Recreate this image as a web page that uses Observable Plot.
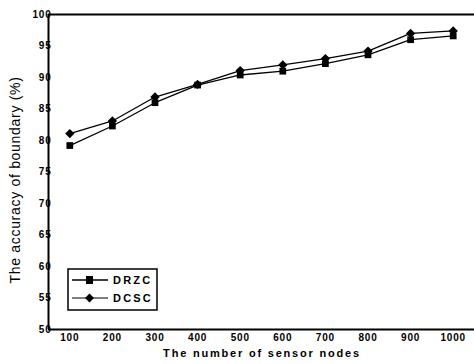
<!DOCTYPE html>
<html>
<head>
<meta charset="utf-8">
<script src="https://cdn.jsdelivr.net/npm/d3@7"></script>
<script src="https://cdn.jsdelivr.net/npm/@observablehq/plot@0.6"></script>
<style>
  body { margin: 0; background: #fff; }
  #chart { position: relative; width: 474px; height: 364px; }
</style>
</head>
<body>
<div id="chart"></div>
<script>
const nodes = [100, 200, 300, 400, 500, 600, 700, 800, 900, 1000];
const drzc = [79.2, 82.3, 86.0, 88.8, 90.4, 91.0, 92.2, 93.6, 96.0, 96.6];
const dcsc = [81.1, 83.1, 86.9, 88.9, 91.1, 92.0, 93.0, 94.2, 97.0, 97.4];
const yTicks = [50, 55, 60, 65, 70, 75, 80, 85, 90, 95, 100];
const seriesNames = ["DRZC", "DCSC"];

const data = [
  ...nodes.map((n, i) => ({n, v: drzc[i], s: "DRZC"})),
  ...nodes.map((n, i) => ({n, v: dcsc[i], s: "DCSC"}))
];

const font = "'Liberation Sans', Arial, sans-serif";

const plot = Plot.plot({
  width: 474,
  height: 364,
  marginTop: 14,
  marginBottom: 35,
  marginLeft: 48,
  marginRight: 0,
  style: {fontFamily: font, background: "#fff", color: "#000"},
  x: {domain: [50, 1050], ticks: nodes, label: null},
  y: {domain: [50, 100], ticks: yTicks, label: null},
  marks: [
    Plot.axisX({ticks: nodes, tickSize: 0, tickPadding: 4, fontSize: 10, fontWeight: "bold",
      tickFormat: d => String(d), label: null}),
    Plot.axisY({ticks: yTicks, tickSize: 0, tickPadding: -3, fontSize: 10, fontWeight: "bold",
      tickFormat: d => String(d), label: null}),
    Plot.ruleX([50], {stroke: "#000", strokeWidth: 2}),
    Plot.ruleY([50], {stroke: "#000", strokeWidth: 2}),
    Plot.ruleY([100], {stroke: "#000", strokeWidth: 2}),
    Plot.line(data, {x: "n", y: "v", z: "s", stroke: "#000", strokeWidth: 1.3}),
    Plot.dot(data.filter(d => d.s === "DRZC"), {x: "n", y: "v", symbol: "square", r: 3.8, fill: "#000", stroke: "none"}),
    Plot.dot(data.filter(d => d.s === "DCSC"), {x: "n", y: "v", symbol: "diamond2", r: 4.2, fill: "#000", stroke: "none"})
  ]
});

document.getElementById("chart").appendChild(plot);

const svg = d3.select(plot);
svg.selectAll("g[aria-label='x-axis tick label'] text, g[aria-label='y-axis tick label'] text")
  .style("letter-spacing", "0.8px");

// Axis titles
svg.append("text")
  .attr("x", 262).attr("y", 357)
  .attr("text-anchor", "middle")
  .attr("font-family", font).attr("font-size", 11).attr("font-weight", "bold")
  .style("letter-spacing", "1.8px")
  .text("The number of sensor nodes");
svg.append("text")
  .attr("transform", "translate(20,180) rotate(-90)")
  .attr("text-anchor", "middle")
  .attr("font-family", font).attr("font-size", 14)
  .style("letter-spacing", "0.7px")
  .text("The accuracy of boundary (%)");

// Legend
const lg = svg.append("g").attr("transform", "translate(68,269)");
lg.append("rect").attr("width", 89).attr("height", 41)
  .attr("fill", "#fff").attr("stroke", "#000").attr("stroke-width", 1.5);
seriesNames.forEach((name, i) => {
  const y = 11 + i * 18;
  lg.append("line").attr("x1", 4).attr("x2", 40).attr("y1", y).attr("y2", y)
    .attr("stroke", "#000").attr("stroke-width", i === 0 ? 1.5 : 1);
  if (i === 0) {
    lg.append("rect").attr("x", 18).attr("y", y - 4).attr("width", 7).attr("height", 8).attr("fill", "#000");
  } else {
    lg.append("path").attr("d", `M21.5,${y-4.5}L26,${y}L21.5,${y+4.5}L17,${y}Z`).attr("fill", "#000");
  }
  lg.append("text").attr("x", 45).attr("y", y + 4)
    .attr("text-anchor", "start")
    .attr("font-family", font).attr("font-size", 11).attr("font-weight", "bold")
    .style("letter-spacing", "2.2px")
    .text(name);
});
</script>
</body>
</html>
